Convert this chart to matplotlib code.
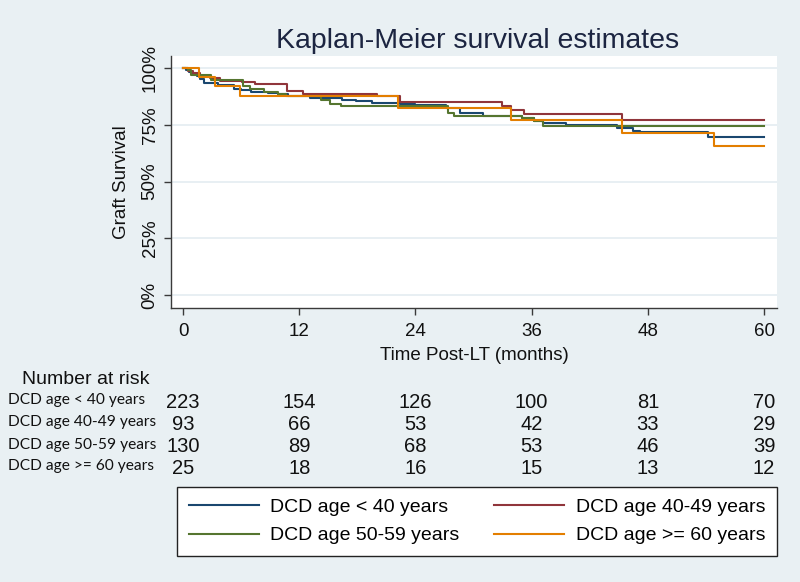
import matplotlib
matplotlib.use("Agg")
import matplotlib.pyplot as plt
from matplotlib.transforms import blended_transform_factory

# ---------------- data ----------------
groups = ["DCD age < 40 years", "DCD age 40-49 years",
          "DCD age 50-59 years", "DCD age >= 60 years"]
colors = ["#1a476f", "#90353b", "#55752f", "#e37e00"]

t_lt40 = [0, 0.3, 0.6, 1.0, 1.4, 1.8, 2.2, 3.6, 5.3, 6.0, 7.0, 8.8, 9.8, 10.8, 13.1,
          15.2, 16.4, 17.9, 19.5, 22.4, 24.0, 27.2, 28.6, 31.0, 35.0, 36.2, 37.2,
          39.5, 44.8, 46.5, 47.2, 54.2]
s_lt40 = [100, 99.1, 98.2, 97.3, 96.4, 95.1, 93.5, 92.5, 90.6, 90.1, 89.4, 88.8, 88.4,
          87.6, 87.0, 86.6, 86.0, 85.3, 84.5, 84.0, 83.7, 82.2, 80.4, 78.9, 77.8, 76.7,
          75.7, 74.8, 73.4, 72.4, 71.6, 69.7]

t_40_49 = [0, 0.5, 1.0, 1.8, 2.8, 3.8, 6.1, 7.4, 10.7, 12.4, 20.0, 22.4, 32.9, 33.9,
           35.2, 45.3]
s_40_49 = [100, 98.9, 97.8, 96.7, 95.6, 94.4, 93.7, 92.9, 90.0, 88.6, 87.5, 85.1, 83.4,
           81.4, 79.7, 77.2]

t_50_59 = [0, 0.5, 0.8, 2.9, 6.2, 6.9, 8.4, 9.8, 10.6, 14.3, 15.2, 16.3, 27.4, 28.0,
           35.0, 36.2, 37.2]
s_50_59 = [100, 99.2, 97.0, 94.7, 92.0, 90.6, 89.4, 88.4, 87.5, 85.7, 84.2, 83.2, 80.3,
           78.9, 77.8, 76.7, 74.5]

t_ge60 = [0, 1.6, 3.3, 5.9, 22.2, 33.9, 45.3, 54.8]
s_ge60 = [100, 96.0, 92.0, 87.5, 82.3, 77.1, 71.3, 65.8]

t_end = 60

risk_times = [0, 12, 24, 36, 48, 60]
risk_lt40 = [223, 154, 126, 100, 81, 70]
risk_40_49 = [93, 66, 53, 42, 33, 29]
risk_50_59 = [130, 89, 68, 53, 46, 39]
risk_ge60 = [25, 18, 16, 15, 13, 12]

x_ticks = [0, 12, 24, 36, 48, 60]
y_ticks = [0, 25, 50, 75, 100]
y_ticklabels = ["0%", "25%", "50%", "75%", "100%"]

# ---------------- figure ----------------
bg = "#e9f0f3"
plt.rcParams["font.family"] = ["Liberation Sans", "DejaVu Sans"]
fig = plt.figure(figsize=(8.0, 5.82), dpi=100, facecolor=bg)
ax = fig.add_axes([0.21375, 0.4708, 0.7575, 0.4330])
ax.set_facecolor("white")

series = [(t_lt40, s_lt40), (t_40_49, s_40_49), (t_50_59, s_50_59), (t_ge60, s_ge60)]
lines = []
for (tt, ss), c, lab in zip(series, colors, groups):
    ln, = ax.step(list(tt) + [t_end], list(ss) + [ss[-1]], where="post",
                  color=c, lw=1.5, label=lab)
    lines.append(ln)

ax.set_xlim(-1.24, 61.34)
ax.set_ylim(-5.7, 105.3)
ax.set_xticks(x_ticks)
ax.set_yticks(y_ticks)
ax.set_yticklabels(y_ticklabels, rotation=90, va="center")
ax.grid(axis="y", color="#e6eef2", lw=1.3)
ax.set_axisbelow(True)
for s in ["top", "right"]:
    ax.spines[s].set_visible(False)
for s in ["left", "bottom"]:
    ax.spines[s].set_color("#3a3a3a")
    ax.spines[s].set_linewidth(1.0)
ax.tick_params(axis="both", length=5, width=1.0, color="#3a3a3a",
               labelsize=13.5, labelcolor="#111111")
ax.tick_params(axis="x", pad=6)
ax.tick_params(axis="y", pad=4)

ax.set_xlabel("Time Post-LT (months)", fontsize=13.5, color="#111111", labelpad=5)
ax.set_ylabel("Graft Survival", fontsize=13.5, color="#111111", labelpad=8)
fig.text(0.597, 0.930, "Kaplan-Meier survival estimates", ha="center", va="center",
         fontsize=20.5, color="#1c2541")

# ---------------- number at risk ----------------
tr = blended_transform_factory(ax.transData, fig.transFigure)
fig.text(0.0275, 1 - 379 / 582, "Number at risk", ha="left", va="center",
         fontsize=14, color="#111111")
row_y = [402, 424, 447, 468]
for lab, vals, y in zip(groups, [risk_lt40, risk_40_49, risk_50_59, risk_ge60], row_y):
    fig.text(0.01, 1 - (y - 2) / 582, lab, ha="left", va="center", fontsize=11.2,
             family=["Lato", "DejaVu Sans"], color="#111111")
    for t, v in zip(risk_times, vals):
        ax.text(t, 1 - y / 582, str(v), transform=tr, ha="center", va="center",
                fontsize=14.5, color="#111111")

# ---------------- legend (row-wise order) ----------------
order = [0, 2, 1, 3]
leg = fig.legend(handles=[lines[i] for i in order], labels=[groups[i] for i in order],
                 ncol=2, loc="lower left",
                 bbox_to_anchor=(177 / 800, 1 - 556 / 582, 600 / 800, 69 / 582),
                 mode="expand", fontsize=14, frameon=True, fancybox=False,
                 edgecolor="#222222", facecolor="white", framealpha=1,
                 handlelength=3.6, handletextpad=0.6, borderaxespad=0,
                 labelspacing=0.55, borderpad=0.6)
leg.get_frame().set_linewidth(1.0)

fig.savefig("out.png", dpi=100, facecolor=bg)
